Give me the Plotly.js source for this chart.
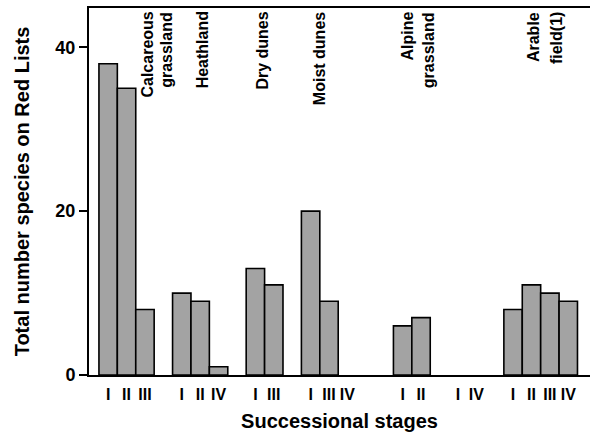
<!DOCTYPE html>
<html>
<head>
<meta charset="utf-8">
<script src="https://cdn.plot.ly/plotly-3.0.1.min.js"></script>
<style>html,body{margin:0;padding:0;background:#fff;}#chart{width:590px;height:436px;}</style>
</head>
<body>
<div id="chart"></div>
<script>
// ---- data ----
var habitats = ["Calcareous grassland", "Heathland", "Dry dunes", "Moist dunes", "Alpine grassland", "", "Arable field(1)"];
var stages = [["I", "II", "III"], ["I", "II", "IV"], ["I", "III"], ["I", "III", "IV"], ["I", "II"], ["I", "IV"], ["I", "II", "III", "IV"]];
var counts = [[38, 35, 8], [10, 9, 1], [13, 11], [20, 9, 0], [6, 7], [0, 0], [8, 11, 10, 9]];

// ---- layout helper (slot where each habitat group starts) ----
var groupStart = [0, 4, 8, 11, 16, 19, 22];

var xs = [], ys = [], labels = [], hover = [], lineW = [];
for (var g = 0; g < habitats.length; g++) {
  for (var k = 0; k < stages[g].length; k++) {
    xs.push(groupStart[g] + k);
    ys.push(counts[g][k]);
    labels.push(stages[g][k]);
    hover.push(habitats[g] + " " + stages[g][k]);
    lineW.push(counts[g][k] > 0 ? 1.6 : 0);
  }
}

var FONT = "Liberation Sans, Arial, Helvetica, sans-serif";

var trace = {
  type: "bar",
  x: xs,
  y: ys,
  width: 1,
  text: hover,
  hoverinfo: "text+y",
  textposition: "none",
  marker: { color: "#a3a3a3", line: { color: "#000", width: lineW } }
};

// group label annotations (one per text line)
var labelLines = [
  { t: "Calcareous", x: 2.15 }, { t: "grassland", x: 3.2 },
  { t: "Heathland", x: 5.1 },
  { t: "Dry dunes", x: 8.4 },
  { t: "Moist dunes", x: 11.5 },
  { t: "Alpine", x: 16.25 }, { t: "grassland", x: 17.45 },
  { t: "Arable", x: 23.15 }, { t: "field(1)", x: 24.4 }
];
var annotations = labelLines.map(function (l) {
  return {
    text: l.t, x: l.x, xref: "x", y: 0.995, yref: "paper",
    xanchor: "center", yanchor: "top", textangle: -90, showarrow: false,
    font: { family: FONT, size: 16, weight: "bold", color: "#000" }
  };
});

var layout = {
  width: 590, height: 436,
  margin: { l: 89, r: 0, t: 8, b: 61 },
  paper_bgcolor: "#fff", plot_bgcolor: "#fff",
  showlegend: false,
  bargap: 0,
  font: { family: FONT, color: "#000" },
  xaxis: {
    range: [-1.04, 26.18],
    tickmode: "array", tickvals: xs, ticktext: labels,
    ticks: "", showgrid: false, zeroline: false, ticklabelstandoff: 4,
    showline: true, linecolor: "#000", linewidth: 2, mirror: true,
    tickfont: { family: FONT, size: 16, weight: "bold", color: "#000" },
    title: { text: "Successional stages", standoff: 12,
      font: { family: FONT, size: 20, weight: "bold", color: "#000" } }
  },
  yaxis: {
    range: [0, 44.8],
    tickmode: "array", tickvals: [0, 20, 40], ticktext: ["0", "20", "40"],
    ticks: "outside", ticklen: 8, tickwidth: 2, tickcolor: "#000",
    showgrid: false, zeroline: false,
    showline: true, linecolor: "#000", linewidth: 2,
    tickfont: { family: FONT, size: 18, weight: "bold", color: "#000" },
    title: { text: "Total number species on Red Lists", standoff: 20,
      font: { family: FONT, size: 20, weight: "bold", color: "#000" } }
  },
  annotations: annotations
};

Plotly.newPlot("chart", [trace], layout, { displayModeBar: false, staticPlot: true });
</script>
</body>
</html>
